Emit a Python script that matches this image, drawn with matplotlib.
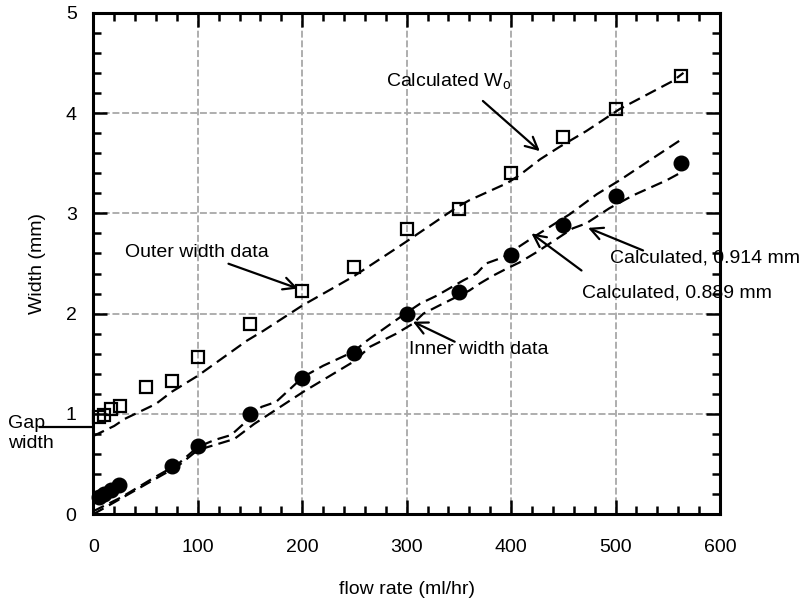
import matplotlib
matplotlib.use("Agg")
import matplotlib.pyplot as plt
from matplotlib.ticker import MultipleLocator

plt.rcParams['font.family'] = ['Liberation Sans', 'DejaVu Sans']
plt.rcParams['mathtext.fontset'] = 'custom'
plt.rcParams['mathtext.rm'] = 'Liberation Sans'
plt.rcParams['mathtext.it'] = 'Liberation Sans'
plt.rcParams['lines.scale_dashes'] = False

# ---- data ----
outer_x = [5, 10, 17, 26, 50, 75, 100, 150, 200, 250, 300, 350, 400, 450, 500, 563]
outer_y = [0.97, 0.99, 1.05, 1.08, 1.27, 1.33, 1.57, 1.90, 2.23, 2.46, 2.84, 3.04, 3.40, 3.76, 4.04, 4.37]

inner_x = [5, 10, 17, 25, 75, 100, 150, 200, 250, 300, 350, 400, 450, 500, 563]
inner_y = [0.17, 0.20, 0.24, 0.29, 0.48, 0.68, 1.00, 1.36, 1.61, 2.00, 2.22, 2.58, 2.88, 3.17, 3.50]

calc_wo_x = [0, 20, 30, 60, 75, 100, 147, 163, 200, 249, 287, 300, 348, 360, 396, 408,
             428, 446, 472, 504, 555, 565]
calc_wo_y = [0.78, 0.88, 0.95, 1.10, 1.22, 1.38, 1.73, 1.83, 2.08, 2.37, 2.63, 2.72, 3.06,
             3.13, 3.30, 3.38, 3.54, 3.66, 3.82, 4.04, 4.32, 4.40]

calc_889_x = [0, 27, 59, 81, 100, 116, 132, 148, 161, 175, 201, 220, 249, 262, 300, 313,
              329, 354, 367, 376, 392, 405, 421, 456, 482, 504, 530, 565]
calc_889_y = [0.03, 0.17, 0.37, 0.50, 0.67, 0.74, 0.79, 0.94, 1.07, 1.12, 1.37, 1.48, 1.62,
              1.73, 2.01, 2.10, 2.18, 2.33, 2.40, 2.50, 2.56, 2.65, 2.76, 2.99, 3.19, 3.33,
              3.51, 3.75]

calc_914_x = [0, 27, 59, 81, 100, 116, 135, 154, 201, 249, 265, 290, 306, 316, 331, 360,
              370, 383, 396, 408, 424, 459, 472, 494, 517, 549, 565]
calc_914_y = [0.00, 0.16, 0.35, 0.48, 0.64, 0.69, 0.75, 0.90, 1.22, 1.52, 1.67, 1.80, 1.90,
              2.00, 2.08, 2.23, 2.30, 2.38, 2.45, 2.51, 2.61, 2.85, 2.90, 3.05, 3.18, 3.33,
              3.42]

x_ticks = [0, 100, 200, 300, 400, 500, 600]
y_ticks = [0, 1, 2, 3, 4, 5]

FS = 14
fig = plt.figure(figsize=(8.09, 6.05), dpi=100)
ax = fig.add_axes([0.1153, 0.150, 0.7747, 0.829])

ax.set_xlim(0, 600)
ax.set_ylim(0, 5)
ax.set_xticks(x_ticks)
ax.set_yticks(y_ticks)
ax.xaxis.set_minor_locator(MultipleLocator(20))
ax.yaxis.set_minor_locator(MultipleLocator(0.2))
ax.grid(True, which='major', color='#a8a8a8', linestyle=(0, (5, 2)), linewidth=1.3, zorder=0)
ax.set_axisbelow(True)

for s in ax.spines.values():
    s.set_linewidth(2.2)
ax.tick_params(which='both', direction='in', top=True, right=True, width=1.8, labelsize=FS)
ax.tick_params(which='major', length=10)
ax.tick_params(which='minor', length=6)
ax.tick_params(axis='x', which='major', pad=18)
ax.tick_params(axis='y', which='major', pad=12)

dash = (0, (8.5, 4.5))
ax.plot(calc_wo_x, calc_wo_y, color='black', lw=1.6, ls=dash, zorder=3)
ax.plot(calc_889_x, calc_889_y, color='black', lw=1.6, ls=dash, zorder=3)
ax.plot(calc_914_x, calc_914_y, color='black', lw=1.6, ls=dash, zorder=3)

ax.plot(outer_x, outer_y, ls='none', marker='s', markersize=8.5, markerfacecolor='none',
        markeredgecolor='black', markeredgewidth=1.6, zorder=4, clip_on=False)
ax.plot(inner_x, inner_y, ls='none', marker='o', markersize=10.5, color='black', zorder=4,
        clip_on=False)

ax.set_xlabel('flow rate (ml/hr)', fontsize=FS, labelpad=18)
ax.set_ylabel('Width (mm)', fontsize=FS, labelpad=14)

arrow = dict(arrowstyle='->', color='black', lw=1.6, mutation_scale=22, shrinkA=0, shrinkB=0)

ax.annotate('', xy=(427.5, 3.62), xytext=(373, 4.12), arrowprops=arrow)
ax.text(280.7, 4.32, r'Calculated W$_{\mathrm{o}}$', fontsize=FS, ha='left', va='center')
ax.annotate('Outer width data', xy=(196, 2.25), xytext=(30.4, 2.61),
            fontsize=FS, ha='left', va='center', arrowprops=arrow)
ax.annotate('', xy=(306, 1.92), xytext=(346, 1.72), arrowprops=arrow)
ax.text(302, 1.64, 'Inner width data', fontsize=FS, ha='left', va='center')
ax.annotate('', xy=(473.7, 2.855), xytext=(526.3, 2.63), arrowprops=arrow)
ax.text(494.4, 2.555, 'Calculated, 0.914 mm', fontsize=FS, ha='left', va='center',
        clip_on=False)
ax.annotate('', xy=(419.5, 2.80), xytext=(467.4, 2.43), arrowprops=arrow)
ax.text(468.3, 2.206, 'Calculated, 0.889 mm', fontsize=FS, ha='left', va='center',
        clip_on=False)

# gap width marker
ax.plot([-0.085, 0.0], [0.87, 0.87], color='black', lw=1.6,
        transform=ax.get_yaxis_transform(), clip_on=False)
ax.text(-0.136, 0.806, 'Gap\nwidth', fontsize=FS, ha='left', va='center', linespacing=1.25,
        transform=ax.get_yaxis_transform())

fig.savefig('out.png', dpi=100)
